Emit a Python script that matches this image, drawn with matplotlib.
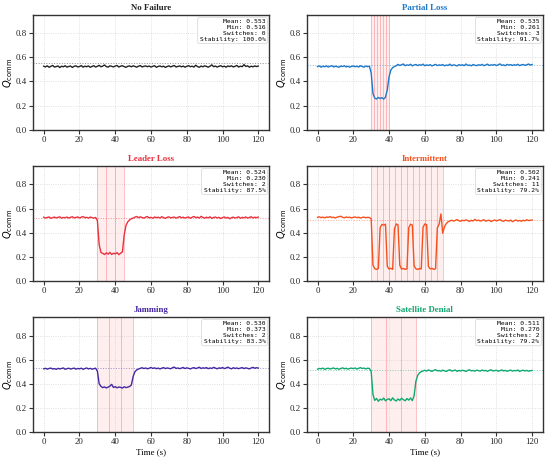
import matplotlib
matplotlib.use("Agg")
import matplotlib.pyplot as plt

time = list(range(121))

titles = ["No Failure", "Partial Loss", "Leader Loss", "Intermittent", "Jamming", "Satellite Denial"]
colors = ["#222222", "#1f78c8", "#e8323f", "#f4511e", "#4527a0", "#0fa870"]

q_no_failure = [
    0.527,0.521,0.530,0.518,0.526,0.533,0.520,0.524,0.529,0.516,
    0.527,0.522,0.531,0.519,0.525,0.528,0.517,0.526,0.530,0.521,
    0.524,0.532,0.519,0.527,0.523,0.529,0.518,0.525,0.531,0.520,
    0.526,0.534,0.522,0.528,0.537,0.524,0.519,0.530,0.526,0.521,
    0.528,0.533,0.520,0.527,0.531,0.523,0.518,0.526,0.529,0.522,
    0.530,0.525,0.519,0.527,0.532,0.521,0.526,0.529,0.523,0.528,
    0.520,0.526,0.531,0.518,0.525,0.529,0.522,0.527,0.517,0.524,
    0.530,0.521,0.527,0.533,0.520,0.525,0.529,0.522,0.528,0.519,
    0.526,0.531,0.523,0.527,0.520,0.535,0.524,0.518,0.528,0.522,
    0.530,0.525,0.519,0.527,0.538,0.523,0.528,0.520,0.526,0.531,
    0.522,0.527,0.519,0.529,0.524,0.530,0.521,0.526,0.533,0.520,
    0.527,0.523,0.540,0.525,0.530,0.519,0.527,0.522,0.529,0.524,
    0.528]

q_partial_loss = [
    0.524,0.529,0.519,0.527,0.522,0.530,0.520,0.526,0.531,0.521,
    0.527,0.523,0.518,0.528,0.524,0.530,0.521,0.526,0.519,0.525,
    0.529,0.522,0.527,0.520,0.531,0.524,0.519,0.528,0.523,0.527,
    0.470,0.300,0.262,0.255,0.268,0.258,0.266,0.254,0.270,0.330,
    0.440,0.495,0.515,0.524,0.531,0.542,0.533,0.539,0.545,0.531,
    0.538,0.534,0.543,0.530,0.537,0.541,0.532,0.539,0.535,0.544,
    0.531,0.538,0.533,0.540,0.529,0.536,0.542,0.532,0.538,0.534,
    0.541,0.530,0.537,0.533,0.544,0.531,0.538,0.535,0.529,0.540,
    0.534,0.539,0.531,0.545,0.533,0.537,0.530,0.541,0.535,0.532,
    0.539,0.534,0.542,0.531,0.537,0.544,0.533,0.538,0.536,0.541,
    0.532,0.539,0.546,0.534,0.538,0.531,0.542,0.536,0.540,0.533,
    0.539,0.535,0.543,0.532,0.538,0.541,0.534,0.539,0.545,0.537,
    0.541]

q_leader_loss = [
    0.528,0.521,0.526,0.530,0.519,0.525,0.529,0.522,0.527,0.531,
    0.520,0.526,0.524,0.529,0.521,0.527,0.532,0.523,0.526,0.530,
    0.522,0.528,0.533,0.524,0.527,0.521,0.529,0.525,0.520,0.526,
    0.500,0.300,0.235,0.228,0.218,0.232,0.222,0.236,0.219,0.229,
    0.224,0.234,0.217,0.230,0.240,0.380,0.460,0.490,0.505,0.515,
    0.521,0.528,0.534,0.524,0.531,0.526,0.520,0.529,0.533,0.522,
    0.527,0.519,0.530,0.524,0.528,0.521,0.532,0.525,0.518,0.527,
    0.531,0.522,0.526,0.529,0.520,0.527,0.533,0.523,0.528,0.521,
    0.526,0.530,0.519,0.528,0.534,0.524,0.529,0.521,0.535,0.526,
    0.520,0.528,0.523,0.531,0.518,0.526,0.529,0.522,0.527,0.517,
    0.525,0.530,0.521,0.527,0.515,0.524,0.529,0.520,0.526,0.531,
    0.519,0.527,0.523,0.530,0.521,0.526,0.532,0.522,0.528,0.524,
    0.529]

q_intermittent = [
    0.527,0.531,0.524,0.529,0.522,0.530,0.526,0.533,0.525,0.528,
    0.521,0.529,0.532,0.536,0.527,0.523,0.530,0.525,0.528,0.522,
    0.527,0.530,0.524,0.528,0.521,0.526,0.529,0.523,0.527,0.525,
    0.515,0.130,0.100,0.095,0.102,0.440,0.468,0.462,0.470,0.120,
    0.098,0.104,0.095,0.430,0.472,0.465,0.130,0.097,0.103,0.095,
    0.100,0.440,0.470,0.463,0.125,0.100,0.094,0.103,0.098,0.445,
    0.472,0.466,0.120,0.099,0.104,0.095,0.101,0.440,0.470,0.555,
    0.395,0.450,0.475,0.490,0.497,0.503,0.496,0.501,0.508,0.499,
    0.494,0.503,0.498,0.506,0.500,0.493,0.502,0.497,0.510,0.499,
    0.504,0.496,0.501,0.507,0.495,0.500,0.503,0.492,0.499,0.505,
    0.497,0.502,0.509,0.498,0.494,0.503,0.500,0.496,0.504,0.491,
    0.499,0.505,0.496,0.501,0.494,0.503,0.498,0.507,0.500,0.502,
    0.505]

q_jamming = [
    0.524,0.528,0.521,0.527,0.530,0.522,0.526,0.519,0.528,0.523,
    0.527,0.531,0.520,0.525,0.529,0.522,0.526,0.530,0.521,0.527,
    0.524,0.529,0.520,0.526,0.531,0.523,0.528,0.521,0.525,0.529,
    0.505,0.400,0.378,0.368,0.374,0.365,0.372,0.380,0.395,0.369,
    0.376,0.366,0.373,0.370,0.364,0.375,0.368,0.372,0.377,0.390,
    0.460,0.500,0.515,0.522,0.528,0.533,0.526,0.531,0.524,0.529,
    0.535,0.527,0.532,0.525,0.530,0.523,0.529,0.534,0.526,0.531,
    0.528,0.524,0.533,0.538,0.527,0.531,0.525,0.530,0.535,0.526,
    0.532,0.528,0.523,0.530,0.534,0.526,0.531,0.537,0.527,0.532,
    0.529,0.534,0.525,0.531,0.527,0.536,0.530,0.524,0.532,0.528,
    0.535,0.526,0.531,0.538,0.529,0.524,0.533,0.527,0.531,0.525,
    0.530,0.534,0.526,0.532,0.528,0.523,0.531,0.536,0.529,0.533,
    0.530]

q_satellite_denial = [
    0.521,0.527,0.524,0.530,0.519,0.526,0.529,0.522,0.527,0.531,
    0.523,0.528,0.520,0.526,0.532,0.524,0.529,0.521,0.527,0.530,
    0.525,0.531,0.522,0.528,0.534,0.526,0.530,0.523,0.529,0.527,
    0.500,0.310,0.262,0.278,0.255,0.272,0.265,0.281,0.258,0.270,
    0.276,0.260,0.283,0.266,0.257,0.274,0.262,0.280,0.268,0.259,
    0.277,0.264,0.282,0.260,0.300,0.420,0.470,0.490,0.500,0.506,
    0.512,0.505,0.515,0.508,0.503,0.511,0.517,0.506,0.510,0.504,
    0.513,0.507,0.502,0.511,0.516,0.505,0.509,0.514,0.503,0.510,
    0.506,0.512,0.508,0.502,0.511,0.515,0.507,0.510,0.504,0.513,
    0.509,0.505,0.514,0.507,0.511,0.503,0.510,0.516,0.506,0.509,
    0.512,0.504,0.508,0.515,0.506,0.511,0.503,0.509,0.513,0.505,
    0.510,0.507,0.514,0.502,0.509,0.512,0.506,0.511,0.504,0.508,
    0.510]

series = [q_no_failure, q_partial_loss, q_leader_loss, q_intermittent, q_jamming, q_satellite_denial]

means = [0.553, 0.535, 0.524, 0.502, 0.530, 0.511]
mins = [0.516, 0.261, 0.230, 0.241, 0.373, 0.270]
switches = [0, 3, 2, 11, 2, 2]
stability = [100.0, 91.7, 87.5, 79.2, 83.3, 79.2]

failure_spans = [None, (30, 40), (30, 45), (30, 70), (30, 50), (30, 55)]
event_lines = [
    [],
    [30, 31.7, 33.3, 35, 36.7, 38.3, 40],
    [30, 35, 40, 45],
    [30, 33.3, 36.7, 40, 43.3, 46.7, 50, 53.3, 56.7, 60, 63.3, 66.7, 70],
    [30, 36.7, 43.3, 50],
    [30, 38.3, 46.7, 55],
]

serif = ["Liberation Serif", "DejaVu Serif"]

fig, axes = plt.subplots(3, 2, figsize=(5.5, 4.61), dpi=100)
fig.subplots_adjust(left=0.06, right=0.987, top=0.967, bottom=0.063,
                    wspace=0.16, hspace=0.32)

for i, ax in enumerate(axes.flat):
    c = colors[i]
    if failure_spans[i] is not None:
        ax.axvspan(failure_spans[i][0], failure_spans[i][1], color="#ff3030", alpha=0.08, lw=0, zorder=0)
    for xv in event_lines[i]:
        ax.axvline(xv, color="#ff3040", alpha=0.3, lw=0.7, zorder=1)
    ax.plot(time, series[i], color=c, lw=1.0, zorder=3)
    ax.axhline(means[i], color=c, ls=":", lw=0.7, alpha=0.5, zorder=2)
    ax.set_xlim(-6, 126)
    ax.set_ylim(0, 0.95)
    ax.set_yticks([0.0, 0.2, 0.4, 0.6, 0.8])
    ax.set_xticks([0, 20, 40, 60, 80, 100, 120])
    ax.grid(True, color="#cccccc", ls=":", lw=0.6, alpha=0.8)
    ax.set_axisbelow(True)
    for sp in ax.spines.values():
        sp.set_color("#333333")
        sp.set_linewidth(1.0)
    ax.tick_params(axis="both", labelsize=6.3, length=3, width=0.8, colors="#333333", pad=1.5)
    for lab in ax.get_xticklabels() + ax.get_yticklabels():
        lab.set_family(serif)
        lab.set_color("#222222")
    ax.set_title(titles[i], fontsize=6.3, fontweight="bold", color=c, family=serif, pad=4)
    ax.set_ylabel(r"$Q_{\mathrm{comm}}$", fontsize=7, labelpad=0.5)
    if i >= 4:
        ax.set_xlabel("Time (s)", fontsize=6.5, family=serif, labelpad=1.5)
    txt = (f"Mean: {means[i]:.3f}\nMin: {mins[i]:.3f}\n"
           f"Switches: {switches[i]}\nStability: {stability[i]:.1f}%")
    ax.text(0.985, 0.965, txt, transform=ax.transAxes, ha="right", va="top",
            multialignment="right", family="DejaVu Sans Mono", fontsize=4.6,
            bbox=dict(boxstyle="round,pad=0.3", facecolor="white", edgecolor="#cccccc",
                      lw=0.5, alpha=0.85), zorder=5)

fig.savefig("out.png", dpi=100)
